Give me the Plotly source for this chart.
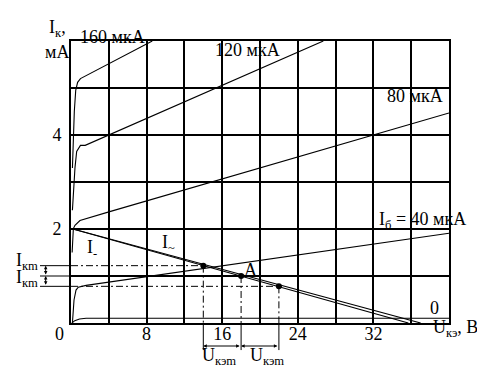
import plotly.graph_objects as go

# ---------------- data ----------------
# output characteristics Ik(Uke) for several base currents
ib0_u = [0.1, 0.4, 0.9, 1.6, 40]
ib0_i = [0.0, 0.05, 0.085, 0.1, 0.1]

ib40_u = [0.15, 0.32, 0.53, 0.77, 1.6, 40]
ib40_i = [0.0, 0.49, 0.70, 0.76, 0.80, 1.91]

ib80_u = [0.12, 0.18, 0.25, 0.42, 0.67, 0.95, 4.1, 40]
ib80_i = [1.5, 1.85, 2.01, 2.08, 2.13, 2.18, 2.37, 4.47]

ib120_u = [0.15, 0.3, 0.42, 0.6, 1.0, 1.5, 26.7]
ib120_i = [2.4, 3.0, 3.3, 3.65, 3.78, 3.78, 6.0]

ib160_u = [0.15, 0.25, 0.35, 0.5, 0.7, 1.0, 4.1, 8.6]
ib160_i = [3.3, 4.0, 4.5, 4.95, 5.12, 5.2, 5.53, 6.0]

# load lines (I~ upper, I- lower)
load_ac_u = [0, 37]
load_ac_i = [2.01, 0]
load_dc_u = [0, 35.7]
load_dc_i = [2.01, 0]

# operating point A and swing points
op_u = [14, 18, 22]
op_i = [1.22, 1.0, 0.78]

x_grid = [0, 4, 8, 12, 16, 20, 24, 28, 32, 36, 40]
x_text = ["", "", "8", "", "16", "", "24", "", "32", "", ""]
y_grid = [0, 1, 2, 3, 4, 5, 6]
y_text = ["", "", "2", "", "4", "", ""]
X_MAX, Y_MAX = 40, 6

FONT = "Liberation Serif, Times New Roman, serif"

fig = go.Figure()
curve = dict(color="black", width=1.1)
for u, i in [(ib0_u, ib0_i), (ib40_u, ib40_i), (ib80_u, ib80_i),
             (ib120_u, ib120_i), (ib160_u, ib160_i)]:
    fig.add_trace(go.Scatter(x=u, y=i, mode="lines", line=curve,
                             hoverinfo="skip", showlegend=False))
for u, i in [(load_ac_u, load_ac_i), (load_dc_u, load_dc_i)]:
    fig.add_trace(go.Scatter(x=u, y=i, mode="lines",
                             line=dict(color="black", width=1.1),
                             hoverinfo="skip", showlegend=False))
fig.add_trace(go.Scatter(x=op_u, y=op_i, mode="markers",
                         marker=dict(color="black", size=6),
                         hoverinfo="skip", showlegend=False, cliponaxis=False))

shapes = []
dd = "7px,3px,2px,3px"
# horizontal projections (dash-dot inside, solid outside the axis)
for u, i in [(op_u[0], op_i[0]), (op_u[2], op_i[2])]:
    shapes.append(dict(type="line", xref="x", yref="y", x0=0, x1=u, y0=i, y1=i,
                       line=dict(color="black", width=1, dash=dd)))
for i in op_i:
    shapes.append(dict(type="line", xref="x domain", yref="y", x0=-0.082, x1=0,
                       y0=i, y1=i, line=dict(color="black", width=1)))
# vertical projections
for u, i in zip(op_u, op_i):
    shapes.append(dict(type="line", xref="x", yref="y", x0=u, x1=u, y0=i, y1=0,
                       line=dict(color="black", width=1, dash=dd)))
    shapes.append(dict(type="line", xref="x", yref="y domain", x0=u, x1=u,
                       y0=0, y1=-0.096, line=dict(color="black", width=1)))

ann = []
def txt(x, y, t, xref="x", yref="y", xa="center", ya="middle", size=18):
    ann.append(dict(x=x, y=y, xref=xref, yref=yref, text=t, showarrow=False,
                    xanchor=xa, yanchor=ya, font=dict(family=FONT, size=size, color="black")))

txt(4.4, 1.015, "160 мкА", yref="y domain")
txt(18.7, 5.81, "120 мкА")
txt(36.4, 4.83, "80 мкА")
txt(37.2, 2.18, "I<sub>б</sub> = 40 мкА")
txt(38.5, 0.31, "0")
txt(19.0, 1.12, "A")
txt(1.48, 1.58, "I<sub>-</sub>", xa="left")
txt(9.4, 1.70, "I<sub>~</sub>", xa="left")
txt(-0.035, 1.043, "I<sub>к</sub>,", xref="paper", yref="paper")
txt(-0.038, 0.961, "мА", xref="paper", yref="paper")
txt(1.016, -0.018, "U<sub>кэ</sub>, В", xref="paper", yref="paper")
txt(-0.03, -0.04, "0", xref="paper", yref="paper")
txt(-0.082, 1.30, "I<sub>кm</sub>", xref="x domain", xa="right")
txt(-0.082, 0.95, "I<sub>кm</sub>", xref="x domain", xa="right")
txt(15.7, -0.12, "U<sub>кэm</sub>", yref="y domain")
txt(20.7, -0.12, "U<sub>кэm</sub>", yref="y domain")

arrow = dict(showarrow=True, text="", arrowhead=2, arrowside="end+start",
             arrowsize=0.7, arrowwidth=1, arrowcolor="black", standoff=0, startstandoff=0)
ann.append(dict(arrow, x=op_u[0], y=-0.0816, xref="x", yref="y domain",
                ax=op_u[1], axref="x", ay=0, ayref="pixel"))
ann.append(dict(arrow, x=op_u[1], y=-0.0816, xref="x", yref="y domain",
                ax=op_u[2], axref="x", ay=0, ayref="pixel"))
ann.append(dict(arrow, x=-0.067, y=op_i[0], xref="x domain", yref="y",
                ax=0, axref="pixel", ay=op_i[1], ayref="y"))
ann.append(dict(arrow, x=-0.067, y=op_i[1], xref="x domain", yref="y",
                ax=0, axref="pixel", ay=op_i[2], ayref="y"))

# the page body adds an 8px offset, so the figure is sized to fit the window
fig.update_layout(
    width=477, height=359,
    margin=dict(l=63, r=36, t=33, b=44, pad=0),
    paper_bgcolor="white", plot_bgcolor="white",
    font=dict(family=FONT, size=18, color="black"),
    shapes=shapes, annotations=ann, showlegend=False,
    xaxis=dict(range=[0, X_MAX], tickmode="array", tickvals=x_grid, ticktext=x_text,
               showgrid=True, gridcolor="black", gridwidth=1.6, zeroline=False,
               showline=True, mirror=True, linecolor="black", linewidth=2,
               ticks="", ticklabelstandoff=-7, fixedrange=True),
    yaxis=dict(range=[0, Y_MAX], tickmode="array", tickvals=y_grid, ticktext=y_text,
               showgrid=True, gridcolor="black", gridwidth=1.6, zeroline=False,
               showline=True, mirror=True, linecolor="black", linewidth=2,
               ticks="", ticklabelstandoff=4, fixedrange=True),
)
fig.write_html("out.html")
